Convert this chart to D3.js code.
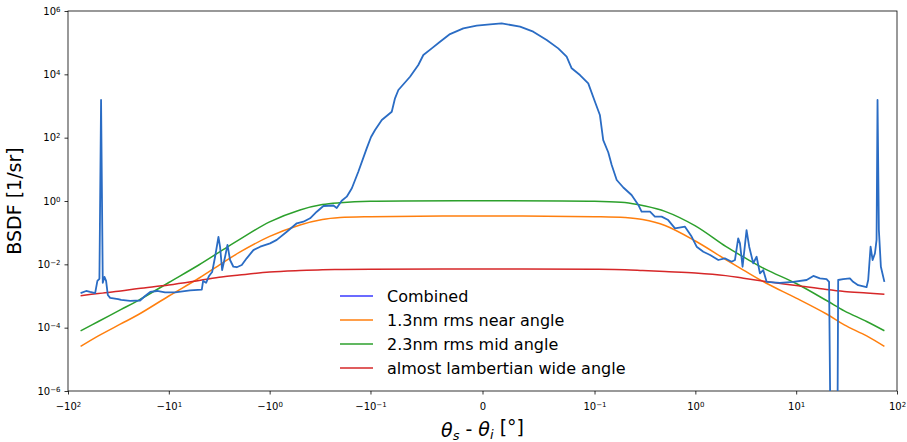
<!DOCTYPE html>
<html>
<head>
<meta charset="utf-8">
<script src="https://cdn.jsdelivr.net/npm/d3@7"></script>
<style>
  body { margin: 0; background: #fff; }
  svg text { font-family: "DejaVu Sans", sans-serif; fill: #000; }
</style>
</head>
<body>
<svg id="chart"></svg>
<script>
// measured BSDF (combined), angle in degrees
const combinedTheta = [
  -75, -66.1, -60.4, -53.8, -51.1, -48.8, -47.0, -45.2, -43.5, -41.9, -40.3, -38.2, -31.8, -29.7,
  -24.2, -19.3, -17.2, -15.3, -13.1, -10.9, -8.67, -6.15, -4.71, -4.57, -4.27, -3.99, -3.72, -3.48,
  -3.22, -3.10, -2.96, -2.77, -2.62, -2.47, -2.29, -2.12, -1.89, -1.69, -1.45, -1.24, -0.99, -0.85,
  -0.676, -0.538, -0.463, -0.397, -0.341, -0.293, -0.233, -0.216, -0.193, -0.172, -0.153, -0.132,
  -0.109, -0.0995, -0.0959, -0.0899, -0.081, -0.0781, -0.0751, -0.0647, -0.0573, -0.0528, -0.0453,
  -0.0379, -0.029, -0.0171, -0.0052, 0.0067, 0.0171, 0.0335, 0.0453, 0.0573, 0.0676, 0.0751, 0.0796,
  0.087, 0.0944, 0.101, 0.113, 0.122, 0.137, 0.148, 0.166, 0.193, 0.233, 0.272, 0.293, 0.355, 0.397,
  0.463, 0.538, 0.628, 0.789, 0.918, 1.03, 1.2, 1.4, 1.69, 1.96, 2.29, 2.47, 2.66, 2.77, 2.94, 3.22,
  3.42, 3.75, 4.05, 4.37, 4.71, 5.09, 6.9, 9.35, 12.7, 14.8, 17.2, 20.0, 21.2, 22.0, 25.6, 26.1,
  29.2, 34.1, 36.7, 41.2, 49.9, 51.8, 54.7, 57.3, 60.4, 62.7, 64.1, 66.1, 69.2, 75
];
const combinedBsdf = [
  1.24e-3, 1.44e-3, 1.34e-3, 1.24e-3, 3.0e-3, 3.5e-3, 1.55e3, 2.6e-3, 4.0e-3, 3.0e-3, 1.08e-3, 8.7e-4, 8.0e-4, 7.5e-4,
  7.0e-4, 7.2e-4, 1.0e-3, 1.34e-3, 1.44e-3, 1.3e-3, 1.3e-3, 1.5e-3, 1.6e-3, 3.0e-3, 2.6e-3, 4.3e-3, 5.7e-3, 1.7e-2,
  7.3e-2, 3.5e-2, 6.6e-3, 1.7e-2, 4.1e-2, 1.37e-2, 8.4e-3, 8.1e-3, 9.5e-3, 1.55e-2, 2.8e-2, 3.6e-2, 4.6e-2, 5.9e-2,
  0.107, 0.198, 0.222, 0.284, 0.459, 0.695, 0.72, 0.60, 1.02, 1.37, 2.52, 8.4,
  46, 105, 175, 361, 661, 1750, 3200, 8400, 1.97e4, 4.07e4, 6.6e4,
  1.07e5, 1.87e5, 2.84e5, 3.43e5, 3.8e5, 4.08e5, 3.19e5, 2.22e5, 1.21e5, 6.6e4, 3.6e4, 1.55e4,
  9500, 5200, 1365, 520, 84, 34, 13.7, 4.6, 2.67, 1.55, 0.75, 0.46, 0.46, 0.32,
  0.32, 0.25, 0.137, 0.154, 0.075, 0.036, 0.025, 0.0197, 0.0137, 0.0155, 0.0121, 0.0137, 0.066, 0.046, 0.0084, 0.121,
  0.036, 0.0108, 0.0174, 0.0052, 0.0066, 0.0028, 0.0026, 0.0028, 0.0032, 0.0043, 0.0036, 0.0034, 0.0028, 1e-8, 1e-8, 0.0032,
  0.0034, 0.0036, 0.0028, 0.0022, 0.0019, 0.0032, 0.036, 0.0137, 0.022, 0.059, 1550, 0.121, 0.0084, 0.0028
];

// model curves sampled at these angles
const modelTheta = [-75, -50, -30, -20, -10, -5, -3, -2, -1, -0.5, -0.3, -0.2, -0.1, 0,
  0.1, 0.2, 0.3, 0.5, 1, 2, 3, 5, 10, 20, 30, 50, 75];
const nearAngle = [2.55e-5, 5.5e-5, 1.31e-4, 2.6e-4, 1.0e-3, 3.7e-3, 1.06e-2, 2.37e-2, 7.6e-2, 0.175, 0.26, 0.30, 0.32, 0.336,
  0.32, 0.30, 0.26, 0.168, 0.0546, 0.0142, 6.6e-3, 2.58e-3, 8.6e-4, 2.7e-4, 1.22e-4, 5.5e-5, 2.55e-5];
const midAngle = [7.9e-5, 1.57e-4, 3.7e-4, 7.3e-4, 2.67e-3, 9.7e-3, 2.7e-2, 6.0e-2, 0.219, 0.52, 0.77, 0.88, 0.98, 1.02,
  0.98, 0.90, 0.72, 0.47, 0.163, 0.0366, 0.0171, 6.9e-3, 2.48e-3, 7.2e-4, 3.4e-4, 1.57e-4, 8.0e-5];
const wideAngle = [1.02e-3, 1.2e-3, 1.44e-3, 1.73e-3, 2.23e-3, 3.1e-3, 4.0e-3, 4.6e-3, 5.7e-3, 6.4e-3, 6.8e-3, 6.9e-3, 7.0e-3, 7.1e-3,
  7.0e-3, 6.8e-3, 6.4e-3, 5.9e-3, 5.3e-3, 4.4e-3, 3.65e-3, 2.87e-3, 2.15e-3, 1.6e-3, 1.39e-3, 1.24e-3, 1.13e-3];

const xTicks = [-100, -10, -1, -0.1, 0, 0.1, 1, 10, 100];
const yTicks = [1e-6, 1e-4, 1e-2, 1, 1e2, 1e4, 1e6];
const legendLabels = ["Combined", "1.3nm rms near angle", "2.3nm rms mid angle", "almost lambertian wide angle"];
const legendColors = ["#3a3aff", "#ff7f0e", "#2ca02c", "#d62728"];

const margin = { top: 11, right: 10, bottom: 51, left: 68 };
const width = 907 - margin.left - margin.right;
const height = 442 - margin.top - margin.bottom;

// matplotlib style symlog (linthresh 0.1, linscale 1)
function scaleSymlogMpl(linthresh, linscale) {
  const k = linscale / (1 - 1 / 10);
  const fwd = v => Math.abs(v) <= linthresh ? v / linthresh * k
    : Math.sign(v) * (k + Math.log10(Math.abs(v) / linthresh));
  const lin = d3.scaleLinear();
  let dom = [0, 1];
  const s = v => lin(fwd(v));
  s.domain = function (d) {
    if (!arguments.length) return dom.slice();
    dom = d.slice(); lin.domain(dom.map(fwd)); return s;
  };
  s.range = function (r) {
    if (!arguments.length) return lin.range();
    lin.range(r); return s;
  };
  s.copy = () => scaleSymlogMpl(linthresh, linscale).domain(dom).range(lin.range());
  return s;
}

const svg = d3.select("#chart")
    .attr("width", 907)
    .attr("height", 442)
  .append("g")
    .attr("transform", `translate(${margin.left},${margin.top})`);

const x = scaleSymlogMpl(0.1, 1).domain([-100, 100]).range([0, width]);
const y = d3.scaleLog().domain([1e-6, 1e6]).range([height, 0]);

svg.append("clipPath").attr("id", "clip")
  .append("rect").attr("width", width).attr("height", height);

// power-of-ten tick labels with superscripts
function powLabel(text, v) {
  text.text(null);
  if (v === 0) { text.text("0"); return; }
  const e = Math.round(Math.log10(Math.abs(v)));
  text.append("tspan").text((v < 0 ? "\u2212" : "") + "10");
  text.append("tspan").attr("dy", "-0.45em").attr("font-size", "7px")
    .text(e < 0 ? "\u2212" + (-e) : e);
}

const xAxis = svg.append("g")
    .attr("transform", `translate(0,${height})`)
    .call(d3.axisBottom(x).tickValues(xTicks).tickSize(3.5).tickPadding(8.5).tickFormat(() => ""));
xAxis.selectAll(".tick text").each(function (d) { powLabel(d3.select(this), d); })
  .attr("font-size", "10px");

const yAxis = svg.append("g")
    .call(d3.axisLeft(y).tickValues(yTicks).tickSize(3.5).tickPadding(4).tickFormat(() => ""));
yAxis.selectAll(".tick text").each(function (d) { powLabel(d3.select(this), d); })
  .attr("font-size", "10px");

svg.selectAll(".domain").remove();
svg.selectAll(".tick line").attr("stroke", "#000").attr("stroke-width", 0.8);

// frame
svg.append("rect")
    .attr("width", width).attr("height", height)
    .attr("fill", "none").attr("stroke", "#000").attr("stroke-width", 0.8);

const line = d3.line().x(d => x(d[0])).y(d => y(d[1]));
const plot = svg.append("g").attr("clip-path", "url(#clip)");

const models = [nearAngle, midAngle, wideAngle];
models.forEach((vals, i) => {
  plot.append("path")
      .datum(modelTheta.map((t, j) => [t, vals[j]]))
      .attr("fill", "none")
      .attr("stroke", legendColors[i + 1])
      .attr("stroke-width", 1.5)
      .attr("d", line.curve(d3.curveCatmullRom.alpha(0.5)));
});

plot.append("path")
    .datum(combinedTheta.map((t, j) => [t, combinedBsdf[j]]))
    .attr("fill", "none")
    .attr("stroke", "#2a6cc4")
    .attr("stroke-width", 1.8)
    .attr("stroke-linejoin", "round")
    .attr("d", line.curve(d3.curveLinear));

// legend
const legend = svg.append("g").attr("transform", "translate(272,285)");
legendLabels.forEach((lab, i) => {
  const row = legend.append("g").attr("transform", `translate(0,${i * 24})`);
  row.append("line").attr("x1", 0).attr("x2", 33).attr("y1", 0).attr("y2", 0)
    .attr("stroke", legendColors[i]).attr("stroke-width", 1.5);
  row.append("text").attr("x", 47).attr("y", 0).attr("dy", "0.36em")
    .attr("font-size", "16px").text(lab);
});

// axis labels
svg.append("text")
    .attr("transform", `translate(${-47},${height / 2}) rotate(-90)`)
    .attr("text-anchor", "middle")
    .attr("font-size", "19px")
    .text("BSDF [1/sr]");

const xl = svg.append("text")
    .attr("x", width / 2)
    .attr("y", height + 46)
    .attr("text-anchor", "middle")
    .attr("font-size", "19px");
xl.append("tspan").attr("font-style", "italic").text("\u03b8");
xl.append("tspan").attr("font-style", "italic").attr("font-size", "13px").attr("dy", "0.25em").text("s");
xl.append("tspan").attr("dy", "-0.25em").text(" - ");
xl.append("tspan").attr("font-style", "italic").text("\u03b8");
xl.append("tspan").attr("font-style", "italic").attr("font-size", "13px").attr("dy", "0.25em").text("i");
xl.append("tspan").attr("dy", "-0.25em").text(" [\u00b0]");
</script>
</body>
</html>
